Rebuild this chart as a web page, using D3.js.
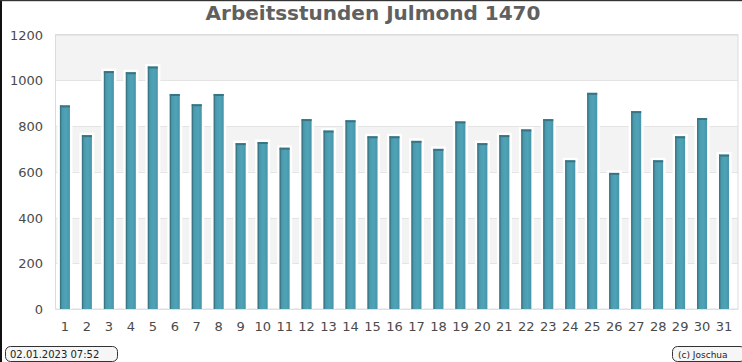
<!DOCTYPE html>
<html><head><meta charset="utf-8">
<script src="https://cdn.jsdelivr.net/npm/d3@7"></script>
<style>html,body{margin:0;padding:0;background:#fff;overflow:hidden}</style>
</head><body>
<svg id="c" width="742" height="362"></svg>
<script>
const title = "Arbeitsstunden Julmond 1470";
const days = d3.range(1, 32).map(String);
const hours = [890,760,1040,1035,1060,940,895,940,725,730,705,830,780,825,755,755,735,700,820,725,760,785,830,650,945,595,865,650,755,835,675];
const yTicks = [0,200,400,600,800,1000,1200];
const stampText = "02.01.2023 07:52";
const creditText = "(c) Joschua";

const W = 742, H = 362;
const plot = {l: 55.5, r: 738, t: 34.5, b: 309};
const svg = d3.select("#c");

const defs = svg.append("defs");
const g1 = defs.append("linearGradient").attr("id","barg").attr("x1","0").attr("x2","1").attr("y1","0").attr("y2","0");
g1.append("stop").attr("offset","0").attr("stop-color","#3f8597");
g1.append("stop").attr("offset","0.25").attr("stop-color","#4a9bae");
g1.append("stop").attr("offset","0.6").attr("stop-color","#50a3b7");
g1.append("stop").attr("offset","1").attr("stop-color","#4795a8");

const x = d3.scaleBand().domain(days).range([54, 735]).paddingInner(0.545).paddingOuter(0.27);
const y = d3.scaleLinear().domain([0,1200]).range([plot.b, plot.t]);

// plot background bands
const bands = d3.pairs(yTicks);
svg.append("g").selectAll("rect").data(bands).join("rect")
  .attr("x", plot.l).attr("width", plot.r - plot.l)
  .attr("y", d => y(d[1])).attr("height", d => y(d[0]) - y(d[1]))
  .attr("fill", (d,i) => i % 2 === 0 ? "#ffffff" : "#f3f3f3");
// grid lines
svg.append("g").selectAll("line").data(yTicks).join("line")
  .attr("x1", plot.l).attr("x2", plot.r)
  .attr("y1", d => Math.round(y(d)) + 0.5).attr("y2", d => Math.round(y(d)) + 0.5)
  .attr("stroke", "#e4e4e4").attr("stroke-width", 1);
// plot border
svg.append("rect").attr("x", plot.l).attr("y", plot.t).attr("width", plot.r - plot.l).attr("height", plot.b - plot.t)
  .attr("fill","none").attr("stroke","#dcdcdc");

// bars
const bars = svg.append("g").selectAll("g").data(hours).join("g");
bars.append("rect")
  .attr("x", (d,i) => x(days[i]) - 2.5).attr("width", x.bandwidth() + 5)
  .attr("y", d => y(d) - 2.5).attr("height", d => plot.b - y(d) + 2)
  .attr("fill", "#ffffff");
bars.append("rect")
  .attr("x", (d,i) => x(days[i])).attr("width", x.bandwidth())
  .attr("y", d => y(d)).attr("height", d => plot.b - y(d))
  .attr("fill", "url(#barg)");
bars.append("rect")
  .attr("x", (d,i) => x(days[i])).attr("width", x.bandwidth())
  .attr("y", d => y(d)).attr("height", 2)
  .attr("fill", "#3a7484");
bars.append("rect")
  .attr("x", (d,i) => x(days[i])).attr("width", 1.2)
  .attr("y", d => y(d)).attr("height", d => plot.b - y(d))
  .attr("fill", "#3a7786");

// y axis labels
const yAxis = d3.axisLeft(y).tickValues(yTicks).tickFormat(d3.format("d")).tickSize(0).tickPadding(0);
const ya = svg.append("g").attr("transform", "translate(43,0)").call(yAxis);
ya.select(".domain").remove();
ya.selectAll("text").attr("font-family","DejaVu Sans").attr("font-size", 13).attr("fill","#4a4a4a").attr("dy","0.36em");

// x axis labels
const xAxis = d3.axisBottom(x).tickSize(0).tickPadding(0);
const xa = svg.append("g").attr("transform", "translate(0,321)").call(xAxis);
xa.select(".domain").remove();
xa.selectAll("text").attr("font-family","DejaVu Sans").attr("font-size", 13).attr("fill","#4a4a4a").attr("dy","0.75em");

// title
svg.append("text").attr("x", 373).attr("y", 20).attr("text-anchor","middle")
  .attr("font-family","DejaVu Sans").attr("font-weight","bold").attr("font-size", 20)
  .attr("fill","#606060").text(title);

// footer boxes
function box(x0, x1, txt, fs, tx) {
  svg.append("rect").attr("x", x0).attr("y", 346.5).attr("width", x1 - x0).attr("height", 15)
    .attr("rx", 5).attr("fill", "#f6f6f6").attr("stroke", "#333").attr("stroke-width", 1);
  svg.append("text").attr("x", tx).attr("y", 358).attr("font-family","DejaVu Sans").attr("font-size", fs)
    .attr("fill","#222").text(txt);
}
box(5.5, 117.5, stampText, 10, 10);
box(672.5, 745, creditText, 9, 678);

// frame edges
svg.append("rect").attr("x",0).attr("y",0).attr("width",2).attr("height",H).attr("fill","#111");
svg.append("rect").attr("x",0).attr("y",0).attr("width",W).attr("height",1.2).attr("fill","#333");
</script>
</body></html>
